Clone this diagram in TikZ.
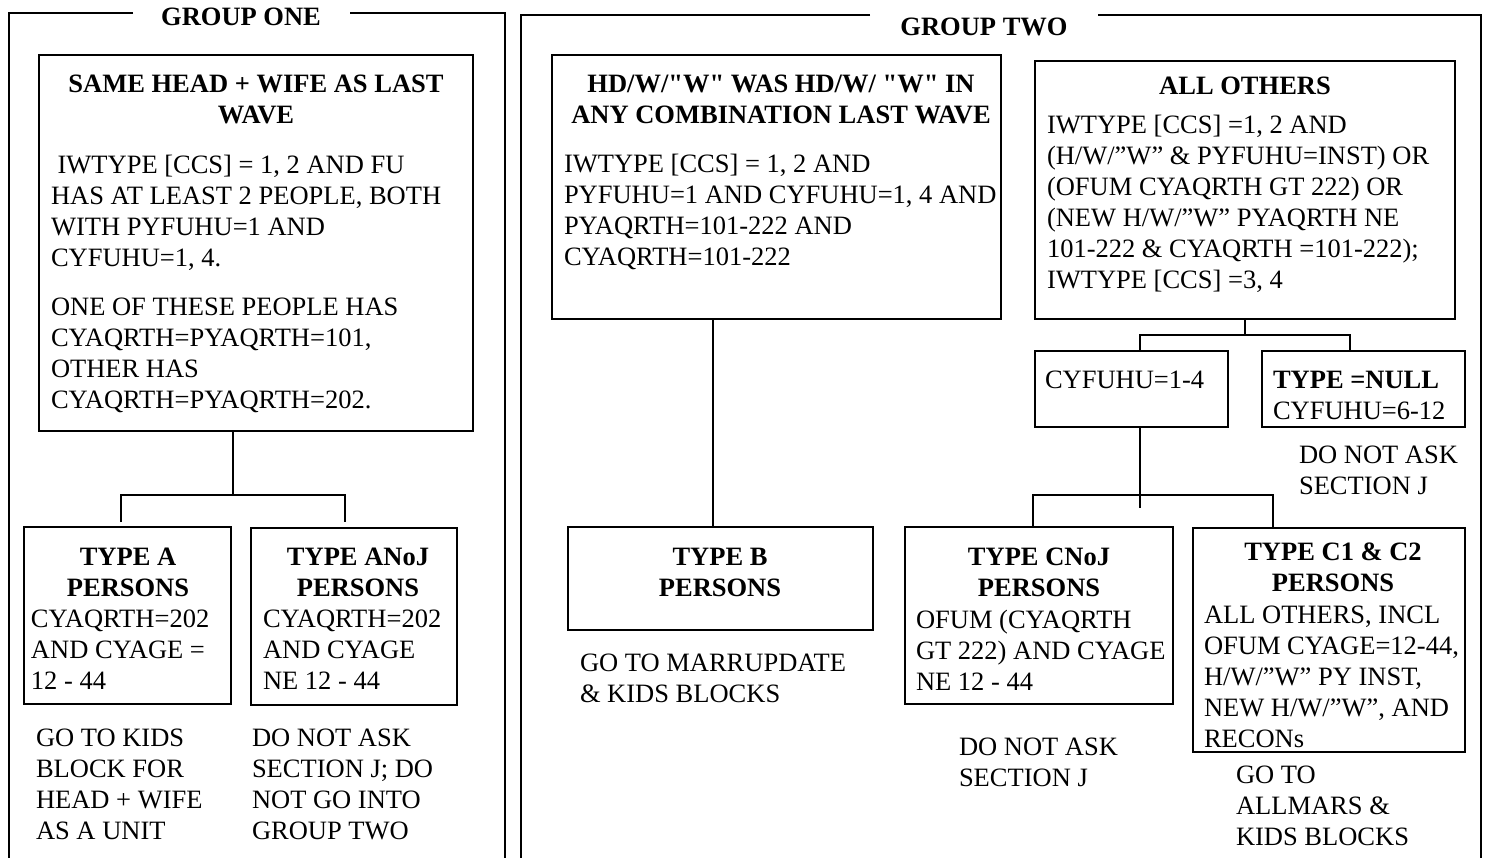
\documentclass[tikz,border=0pt]{standalone}
\usepackage{fontspec}
\setmainfont{Liberation Serif}[Ligatures=TeXOff]
\usetikzlibrary{fit}
\begin{document}
\begin{tikzpicture}[x=0.5pt,y=-0.5pt,
  font=\fontsize{13.25}{15.5}\selectfont, line width=1pt,
  box/.style={draw, inner sep=0pt},
  txt/.style={anchor=north west, inner sep=0pt, align=left},
  ttl/.style={anchor=north, inner sep=0pt, align=center, font=\fontsize{13.25}{15.5}\selectfont\bfseries},
  grp/.style={inner sep=0pt, font=\fontsize{13.25}{15.5}\selectfont\bfseries}]
\useasboundingbox (0,0) rectangle (1488,857);

% ---------- group frames ----------
\node[grp] (g1) at (241,17) {GROUP ONE};
\node[grp] (g2) at (984,27) {GROUP TWO};
\draw (133,13) -- (9,13) -- (9,860);
\draw (350,13) -- (505,13) -- (505,860);
\draw (870,15) -- (521,15) -- (521,860);
\draw (1098,15) -- (1481,15) -- (1481,860);

% ---------- group one ----------
\node[box, fit={(39,55) (473,431)}] (s1) {};
\node[ttl] (s1t) at (256,74) {SAME HEAD + WIFE AS LAST\\WAVE};
\node[txt] (s1b) at (50,154) {\hspace*{3.3pt}IWTYPE [CCS] = 1, 2 AND FU\\HAS AT LEAST 2 PEOPLE, BOTH\\WITH PYFUHU=1 AND\\CYFUHU=1, 4.};
\node[txt] (s1c) at (50,297) {ONE OF THESE PEOPLE HAS\\CYAQRTH=PYAQRTH=101,\\OTHER HAS\\CYAQRTH=PYAQRTH=202.};

\node[box, fit={(24,527) (231,704)}] (ta) {};
\node[ttl] (tat) at (128,547) {TYPE A\\PERSONS};
\node[txt] (tab) at (30,609) {CYAQRTH=202\\AND CYAGE =\\12 - 44};

\node[box, fit={(251,528) (457,705)}] (tn) {};
\node[ttl] (tnt) at (358,547) {TYPE ANoJ\\PERSONS};
\node[txt] (tnb) at (262,609) {CYAQRTH=202\\AND CYAGE\\NE 12 - 44};

\node[txt] (na) at (35,728) {GO TO KIDS\\BLOCK FOR\\HEAD + WIFE\\AS A UNIT};
\node[txt] (nn) at (251,728) {DO NOT ASK\\SECTION J; DO\\NOT GO INTO\\GROUP TWO};

\coordinate (j1) at (233,495);
\coordinate (a1) at (121,522);
\coordinate (a2) at (345,522);
\draw (s1.south -| j1) -- (j1);
\draw (a1) |- (j1) -| (a2);

% ---------- group two ----------
\node[box, fit={(552,55) (1001,319)}] (hd) {};
\node[ttl] (hdt) at (781,74) {HD/W/"W" WAS HD/W/ "W" IN\\ANY COMBINATION LAST WAVE};
\node[txt] (hdb) at (563,153) {IWTYPE [CCS] = 1, 2 AND\\PYFUHU=1 AND CYFUHU=1, 4 AND\\PYAQRTH=101-222 AND\\CYAQRTH=101-222};

\node[box, fit={(568,527) (873,630)}] (tb) {};
\node[ttl] (tbt) at (720,547) {TYPE B\\PERSONS};
\node[txt] (nb) at (579,653) {GO TO MARRUPDATE\\\& KIDS BLOCKS};

\coordinate (b1) at (713,0);
\draw (hd.south -| b1) -- (tb.north -| b1);

\node[box, fit={(1035,61) (1455,319)}] (ao) {};
\node[ttl] (aot) at (1245,76) {ALL OTHERS};
\node[txt] (aob) at (1046,114) {IWTYPE [CCS] =1, 2 AND\\(H/W/”W” \& PYFUHU=INST) OR\\(OFUM CYAQRTH GT 222) OR\\(NEW H/W/”W” PYAQRTH NE\\101-222 \& CYAQRTH =101-222);\\IWTYPE [CCS] =3, 4};

\node[box, fit={(1035,351) (1228,427)}] (cy) {};
\node[txt] (cyt) at (1044,370) {CYFUHU=1-4};
\node[box, fit={(1262,351) (1465,427)}] (nl) {};
\node[txt] (nlt) at (1272,370) {\textbf{TYPE =NULL}\\CYFUHU=6-12};
\node[txt] (nnl) at (1298,445) {DO NOT ASK\\SECTION J};

\coordinate (j2) at (1245,335);
\coordinate (c1) at (1140,351);
\coordinate (c2) at (1350,351);
\draw (ao.south) -- (j2);
\draw (c1) |- (j2) -| (c2);

\node[box, fit={(905,527) (1173,704)}] (cn) {};
\node[ttl] (cnt) at (1039,547) {TYPE CNoJ\\PERSONS};
\node[txt] (cnb) at (915,609) {OFUM (CYAQRTH\\GT 222) AND CYAGE\\NE 12 - 44};
\node[txt] (ncn) at (958,737) {DO NOT ASK\\SECTION J};

\node[box, fit={(1193,528) (1465,752)}] (cc) {};
\node[ttl] (cct) at (1333,542) {TYPE C1 \& C2\\PERSONS};
\node[txt] (ccb) at (1203,605) {ALL OTHERS, INCL\\OFUM CYAGE=12-44,\\H/W/”W” PY INST,\\NEW H/W/”W”, AND\\RECONs};
\node[txt] (ncc) at (1235,765) {GO TO\\ALLMARS \&\\KIDS BLOCKS};

\coordinate (j3) at (1140,508);
\coordinate (j4) at (1140,495);
\coordinate (d1) at (1033,527);
\coordinate (d2) at (1273,527);
\draw (cy.south -| j3) -- (j3);
\draw (d1) |- (j4) -| (d2);
\end{tikzpicture}
\end{document}
